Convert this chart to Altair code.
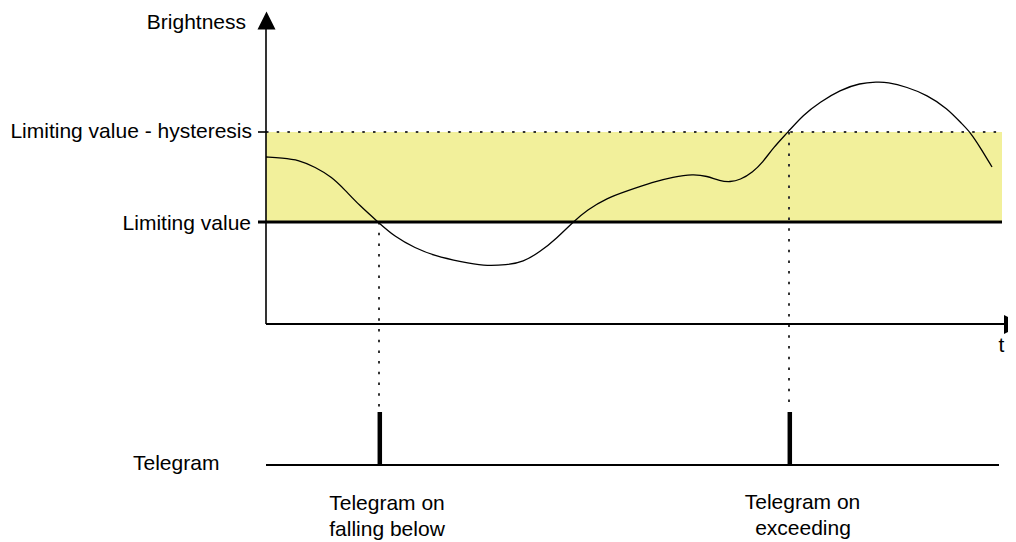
import altair as alt
import pandas as pd

# Diagram frame: t = time (to the right), b = brightness (upwards), origin at the axes corner
curve_t = [0, 16, 33, 49, 66, 79, 93, 112, 129, 149, 169, 196, 217, 241, 257, 274, 291, 307,
           321, 341, 361, 387, 407, 427, 441, 454, 464, 474, 487, 497, 507, 522, 537, 554,
           574, 594, 611, 621, 641, 661, 681, 697, 704, 714, 726]
curve_b = [167, 166, 164, 157, 147, 134, 119, 102, 87, 76, 68, 62, 58, 59, 62, 72, 86, 102,
           114, 126, 133, 142, 147, 150, 148, 143, 142, 144, 152, 162, 176, 192, 209, 222,
           234, 241, 242, 242, 237, 229, 216, 199, 192, 177, 157]

limit_value = 102
hysteresis_value = 192
band_start, band_end = 0, 736
tick_start = -8
time_axis_end = 738
bright_axis_top = 296
arrow_up = (0.5, 303.5)
arrow_right = (747.5, -0.5)

event_t = [113, 523]          # falling below / exceeding
event_level = [102, 192]
dotted_bottom = -86
telegram_level = -141
pulse_top = -88
telegram_line_end = 733

left_labels = ["Brightness", "Limiting value - hysteresis", "Limiting value"]
left_label_t = [-20, -14, -15]
left_label_b = [295, 186, 94]

center_labels = ["t", "Telegram on", "falling below", "Telegram on", "exceeding"]
center_label_t = [735.5, 121, 121, 536.5, 537]
center_label_b = [-28, -186, -212, -185, -211]

telegram_label = "Telegram"
telegram_label_pos = (-133, -146)

X = alt.Scale(domain=[-258, 742], nice=False, zero=False)
Y = alt.Scale(domain=[-218, 316], nice=False, zero=False)

def xe(f="t"):
    return alt.X(f"{f}:Q", scale=X, axis=None)

def ye(f="b"):
    return alt.Y(f"{f}:Q", scale=Y, axis=None)

FONT = "Liberation Sans"
FS = 21

band = alt.Chart(pd.DataFrame({"t": [band_start], "t2": [band_end],
                               "b": [limit_value], "b2": [hysteresis_value]})).mark_rect(
    color="#f2f09b").encode(x=xe(), x2="t2:Q", y=ye(), y2="b2:Q")

axes = pd.DataFrame({
    "t": [0, 0, tick_start, tick_start, 0],
    "t2": [0, time_axis_end, 0, band_end, telegram_line_end],
    "b": [0, 0, hysteresis_value, limit_value, telegram_level],
    "b2": [bright_axis_top, 0, hysteresis_value, limit_value, telegram_level],
    "w": [1.6, 1.8, 1.6, 3.2, 1.8],
})
axis_rules = alt.Chart(axes).mark_rule(color="black").encode(
    x=xe(), x2="t2:Q", y=ye(), y2="b2:Q",
    strokeWidth=alt.StrokeWidth("w:Q", scale=None))

hyst_dotted = alt.Chart(pd.DataFrame({"t": [0], "t2": [band_end], "b": [hysteresis_value]})).mark_rule(
    color="#333333", strokeWidth=2, strokeDash=[2.5, 8.2]).encode(x=xe(), x2="t2:Q", y=ye())

drops = alt.Chart(pd.DataFrame({"t": event_t, "b": event_level,
                                "b2": [dotted_bottom] * 2})).mark_rule(
    color="#333333", strokeWidth=2, strokeDash=[2.5, 8.2]).encode(x=xe(), y=ye(), y2="b2:Q")

pulses = alt.Chart(pd.DataFrame({"t": [e + 0.8 for e in event_t], "b": [pulse_top] * 2,
                                 "b2": [telegram_level] * 2})).mark_rule(
    color="black", strokeWidth=4.5).encode(x=xe(), y=ye(), y2="b2:Q")

curve = alt.Chart(pd.DataFrame({"t": curve_t, "b": curve_b})).mark_line(
    color="black", strokeWidth=1.3, interpolate="basis").encode(x=xe(), y=ye())

up = alt.Chart(pd.DataFrame({"t": [arrow_up[0]], "b": [arrow_up[1]]})).mark_point(
    shape="M0,-1L1,1L-1,1Z", filled=True, size=324, color="black", opacity=1).encode(x=xe(), y=ye())
right = alt.Chart(pd.DataFrame({"t": [arrow_right[0]], "b": [arrow_right[1]]})).mark_point(
    shape="M-1,-1L1,0L-1,1Z", filled=True, size=361, color="black", opacity=1).encode(x=xe(), y=ye())

lt = alt.Chart(pd.DataFrame({"t": left_label_t, "b": left_label_b, "s": left_labels})).mark_text(
    align="right", baseline="alphabetic", font=FONT, fontSize=FS, color="black").encode(
    x=xe(), y=ye(), text="s:N")
ct = alt.Chart(pd.DataFrame({"t": center_label_t, "b": center_label_b, "s": center_labels})).mark_text(
    align="center", baseline="alphabetic", font=FONT, fontSize=FS, color="black").encode(
    x=xe(), y=ye(), text="s:N")
tg = alt.Chart(pd.DataFrame({"t": [telegram_label_pos[0]], "b": [telegram_label_pos[1]],
                             "s": [telegram_label]})).mark_text(
    align="left", baseline="alphabetic", font=FONT, fontSize=FS, color="black").encode(
    x=xe(), y=ye(), text="s:N")

chart = alt.layer(band, hyst_dotted, drops, axis_rules, pulses, curve, up, right, lt, ct, tg).properties(
    width=1000, height=534, padding=0, autosize=alt.AutoSizeParams(type="none"),
    background="white").configure_view(stroke=None)

chart.save("out.html", embed_options={"renderer": "svg", "actions": False})
